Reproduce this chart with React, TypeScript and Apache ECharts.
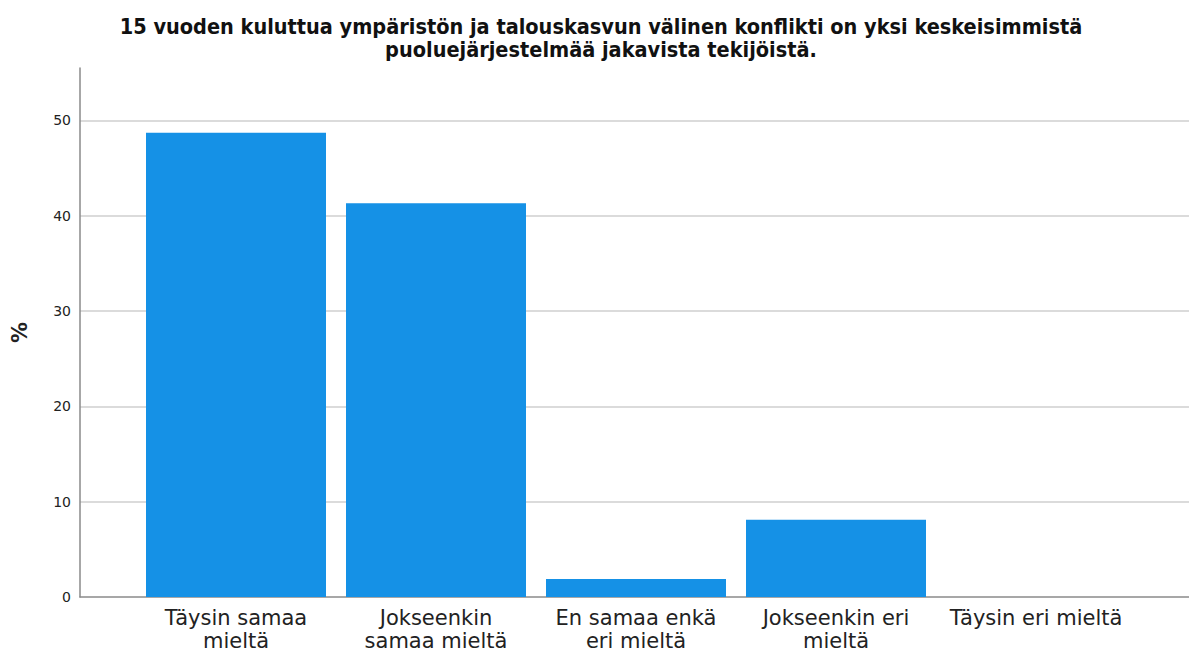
import React, { useEffect, useRef } from "react";
import * as echarts from "echarts";

const titleText =
  "15 vuoden kuluttua ympäristön ja talouskasvun välinen konflikti on yksi keskeisimmistä\npuoluejärjestelmää jakavista tekijöistä.";
const categories = [
  "Täysin samaa\nmieltä",
  "Jokseenkin\nsamaa mieltä",
  "En samaa enkä\neri mieltä",
  "Jokseenkin eri\nmieltä",
  "Täysin eri mieltä",
];
const percents = [48.7, 41.3, 1.9, 8.1, 0];
const yTicks = [0, 10, 20, 30, 40, 50];

export default function App() {
  const ref = useRef<HTMLDivElement>(null);
  useEffect(() => {
    if (!ref.current) return;
    const chart = echarts.init(ref.current, null, { renderer: "svg" });
    chart.setOption({
      animation: false,
      backgroundColor: "#ffffff",
      title: {
        text: titleText,
        left: 596,
        textAlign: "center",
        top: 10,
        textStyle: {
          fontFamily: "'DejaVu Sans Condensed', 'Liberation Sans', Arial, sans-serif",
          fontWeight: "bold",
          fontSize: 21.5,
          lineHeight: 23,
          color: "#111111",
        },
      },
      grid: { left: 80, right: 0, top: 68, bottom: 54.5, containLabel: false },
      xAxis: {
        type: "value",
        min: -0.78,
        max: 4.765,
        splitLine: { show: false },
        axisTick: { show: false },
        axisLine: { show: true, onZero: false, lineStyle: { color: "#8a8a8a", width: 1.5 } },
        axisLabel: {
          customValues: categories.map((_, i) => i),
          formatter: (v: number) => categories[Math.round(v)] ?? "",
          margin: 9,
          fontFamily: "'DejaVu Sans', sans-serif",
          fontSize: 21,
          lineHeight: 23,
          color: "#222222",
          align: "center",
        },
      },
      yAxis: {
        type: "value",
        min: 0,
        max: 55.5,
        interval: 10,
        name: "%",
        nameLocation: "middle",
        nameGap: 50,
        nameRotate: 90,
        nameTextStyle: {
          fontFamily: "'DejaVu Sans', sans-serif",
          fontWeight: "bold",
          fontSize: 21,
          color: "#222222",
        },
        axisLine: { show: true, onZero: false, lineStyle: { color: "#8a8a8a", width: 1.5 } },
        axisTick: { show: false },
        axisLabel: {
          customValues: yTicks,
          margin: 9,
          fontFamily: "'DejaVu Sans', sans-serif",
          fontSize: 14,
          color: "#222222",
        },
        splitLine: {
          show: true,
          showMinLine: false,
          showMaxLine: false,
          lineStyle: { color: "#cfcfcf", width: 1.5 },
        },
      },
      series: [
        {
          type: "bar",
          barWidth: 180,
          data: categories.map((_, i) => [i, percents[i]]),
          itemStyle: { color: "#1591e6" },
        },
      ],
    });
    return () => chart.dispose();
  }, []);
  return (
    <div
      ref={ref}
      style={{ position: "absolute", left: 0, top: 0, width: 1189, height: 652 }}
    />
  );
}
